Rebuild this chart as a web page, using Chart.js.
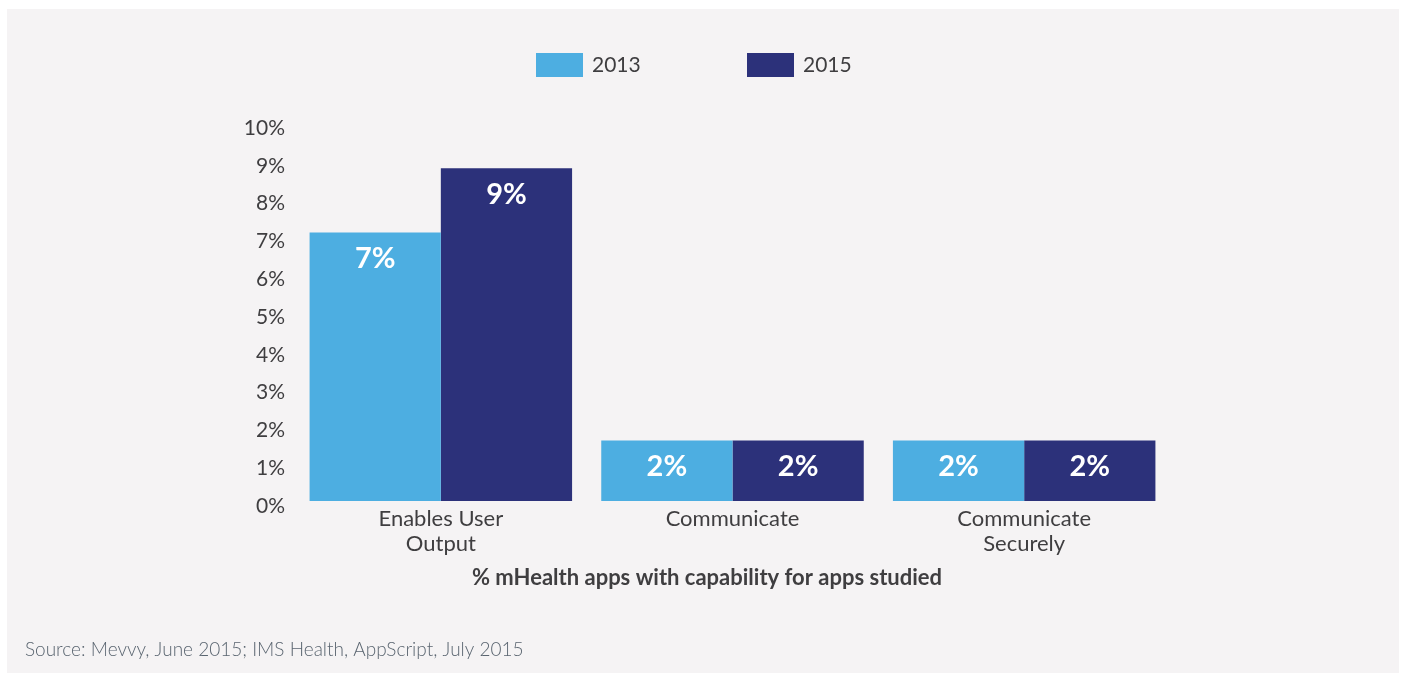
<!DOCTYPE html>
<html>
<head>
<meta charset="utf-8">
<script src="https://cdn.jsdelivr.net/npm/chart.js@4/dist/chart.umd.min.js"></script>
<style>
  html, body { margin: 0; padding: 0; background: #ffffff; }
  #wrap { width: 1405px; height: 675px; position: relative; }
</style>
</head>
<body>
<div id="wrap"><canvas id="myChart"></canvas></div>
<script>
// categories and series
var categories = [["Enables User", "Output"], "Communicate", ["Communicate", "Securely"]];
var years = ["2013", "2015"];
var values2013 = [7.1, 1.6, 1.6];
var values2015 = [8.8, 1.6, 1.6];
var yTicks = [0, 1, 2, 3, 4, 5, 6, 7, 8, 9, 10];
var xTitle = "% mHealth apps with capability for apps studied";
var sourceNote = "Source: Mevvy, June 2015; IMS Health, AppScript, July 2015";

var lightBlue = '#4daee1';
var navy = '#2c317a';
var textColor = '#3f3e40';
var fontFamily = "Lato, 'Open Sans', sans-serif";

//panel background behind everything
var panelPlugin = {
  id: 'panel',
  beforeDraw: function(chart) {
    var ctx = chart.ctx;
    ctx.save();
    ctx.fillStyle = '#f5f3f4';
    ctx.fillRect(7, 9, 1392, 664);
    ctx.restore();
  }
};

//legend across the top, drawn from the datasets
var legendPlugin = {
  id: 'topLegend',
  afterDraw: function(chart) {
    var ctx = chart.ctx;
    ctx.save();
    ctx.font = '21px ' + fontFamily;
    ctx.textBaseline = 'middle';
    chart.data.datasets.forEach(function(ds, i) {
      var x = 536 + i * 211;
      ctx.fillStyle = ds.backgroundColor;
      ctx.fillRect(x, 53, 47, 24);
      ctx.fillStyle = textColor;
      ctx.fillText(ds.label, x + 56, 65);
    });
    ctx.restore();
  }
};

//white value labels inside the bars
var valueLabels = {
  id: 'valueLabels',
  afterDatasetsDraw: function(chart) {
    var ctx = chart.ctx;
    ctx.save();
    ctx.font = 'bold 29px ' + fontFamily;
    ctx.fillStyle = '#ffffff';
    ctx.textAlign = 'center';
    ctx.textBaseline = 'middle';
    chart.data.datasets.forEach(function(ds, i) {
      chart.getDatasetMeta(i).data.forEach(function(bar, j) {
        ctx.fillText(Math.round(ds.data[j]) + '%', bar.x, bar.y + 26);
      });
    });
    ctx.restore();
  }
};

//axis caption and source line under the bars
var captionPlugin = {
  id: 'captions',
  afterDraw: function(chart) {
    var ctx = chart.ctx;
    ctx.save();
    ctx.textBaseline = 'middle';
    ctx.font = 'bold 22px ' + fontFamily;
    ctx.fillStyle = textColor;
    ctx.textAlign = 'center';
    ctx.fillText(xTitle, 707, 578);
    ctx.font = '300 19px ' + fontFamily;
    ctx.fillStyle = '#5a6570';
    ctx.textAlign = 'left';
    ctx.fillText(sourceNote, 25, 650);
    ctx.restore();
  }
};

var ctx = document.getElementById('myChart').getContext('2d');
var chart = new Chart(ctx, {
  type: 'bar',
  data: {
    labels: categories,
    datasets: [{
        label: years[0],
        backgroundColor: lightBlue,
        data: values2013
      },
      {
        label: years[1],
        backgroundColor: navy,
        data: values2015
      }
    ]
  },
  options: {
    responsive: true,
    maintainAspectRatio: false,
    animation: false,
    categoryPercentage: 0.9,
    barPercentage: 1.0,
    layout: {
      padding: { top: 123, left: 235, right: 235, bottom: 0 }
    },
    plugins: {
      legend: { display: false },
      tooltip: { enabled: false }
    },
    scales: {
      x: {
        afterFit: function(scale) { scale.height = 174; },
        grid: { display: false, drawTicks: false },
        border: { display: false },
        ticks: {
          color: textColor,
          padding: 5,
          font: { family: fontFamily, size: 22, lineHeight: 1.14 }
        }
      },
      y: {
        min: 0,
        max: 10,
        afterFit: function(scale) { scale.width = 60; },
        afterBuildTicks: function(scale) {
          scale.ticks = yTicks.map(function(v) { return { value: v }; });
        },
        grid: { display: false, drawTicks: false },
        border: { display: false },
        ticks: {
          color: textColor,
          padding: 10,
          labelOffset: 5,
          font: { family: fontFamily, size: 21 },
          callback: function(value) { return value + '%'; }
        }
      }
    }
  },
  plugins: [panelPlugin, legendPlugin, valueLabels, captionPlugin]
});
</script>
</body>
</html>
